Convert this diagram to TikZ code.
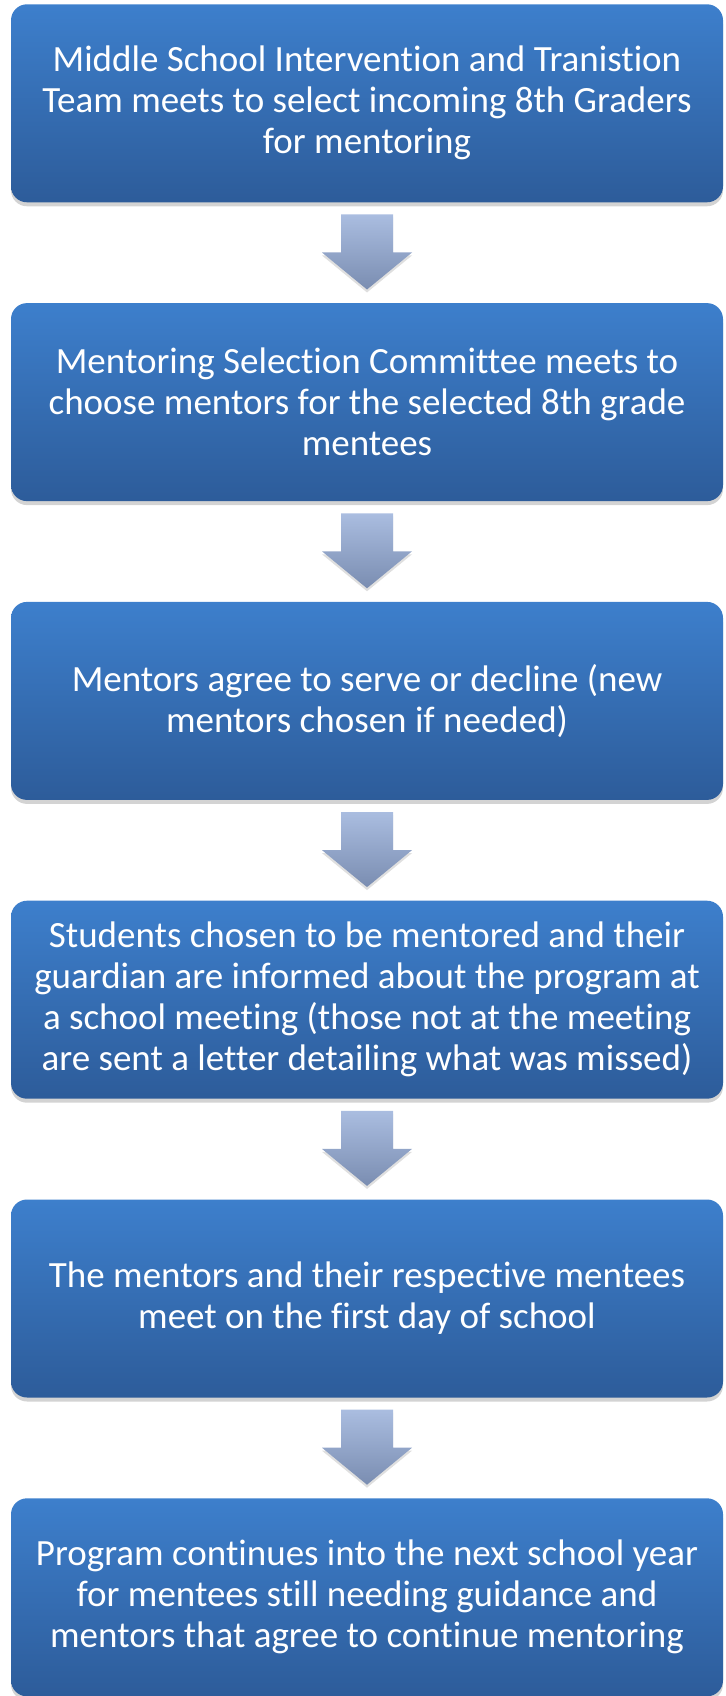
\documentclass[tikz,border=0pt]{standalone}
\usepackage{fontspec}
\setmainfont[RawFeature={-liga;-clig;-calt;-dlig}]{Carlito}
\usetikzlibrary{calc,shadows}

\definecolor{boxtop}{RGB}{61,127,204}
\definecolor{boxbot}{RGB}{45,92,154}
\definecolor{arrtop}{RGB}{170,189,224}
\definecolor{arrbot}{RGB}{122,141,177}

\tikzset{
  x=1pt, y=1pt,
  stepbox/.style={
    rectangle, rounded corners=16pt,
    minimum width=712pt, minimum height=198pt,
    inner sep=0pt, align=center, text=white,
    font=\fontsize{37}{41}\selectfont,
    top color=boxtop, bottom color=boxbot, draw=none,
    drop shadow={opacity=0.35, shadow xshift=0pt, shadow yshift=-4pt}
  },
  blockarrow/.style={
    top color=arrtop, bottom color=arrbot, draw=none,
    drop shadow={opacity=0.25, shadow xshift=0pt, shadow yshift=-3pt}
  }
}

% block arrow pointing down from the bottom edge of a box
\newcommand{\downarrowfrom}[1]{%
  \path[blockarrow]
    ($(#1.south)+(-26,-12)$) -- ($(#1.south)+(26,-12)$) --
    ($(#1.south)+(26,-50)$) -- ($(#1.south)+(45,-50)$) --
    ($(#1.south)+(0,-87)$) -- ($(#1.south)+(-45,-50)$) --
    ($(#1.south)+(-26,-50)$) -- cycle;}

\begin{document}
\begin{tikzpicture}
\useasboundingbox (0,0) rectangle (725,-1696);

\node[stepbox] (b1) at (367,-103.3) {Middle School Intervention and Tranistion\\Team meets to select incoming 8th Graders\\for mentoring};
\node[stepbox] (b2) at (367,-402.1) {Mentoring Selection Committee meets to\\choose mentors for the selected 8th grade\\mentees};
\node[stepbox] (b3) at (367,-700.9) {Mentors agree to serve or decline (new\\mentors chosen if needed)};
\node[stepbox] (b4) at (367,-999.7) {Students chosen to be mentored and their\\guardian are informed about the program at\\a school meeting (those not at the meeting\\are sent a letter detailing what was missed)};
\node[stepbox] (b5) at (367,-1298.5) {The mentors and their respective mentees\\meet on the first day of school};
\node[stepbox] (b6) at (367,-1597.3) {Program continues into the next school year\\for mentees still needing guidance and\\mentors that agree to continue mentoring};

\downarrowfrom{b1}
\downarrowfrom{b2}
\downarrowfrom{b3}
\downarrowfrom{b4}
\downarrowfrom{b5}
\end{tikzpicture}
\end{document}
